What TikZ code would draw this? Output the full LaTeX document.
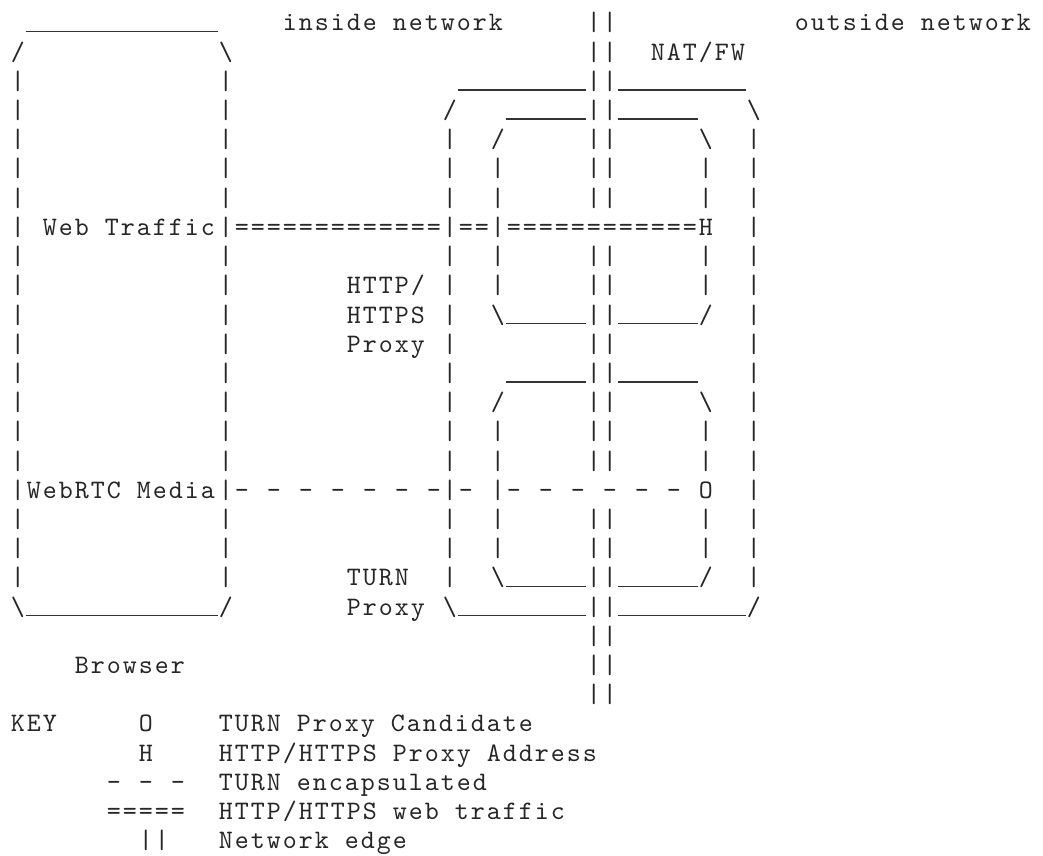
\documentclass[tikz,border=0pt]{standalone}
\usepackage{fontspec}
\usepackage{tikz}
\newfontfamily\asciifont{lmmono10-regular.otf}[LetterSpace=7.5]
\newcommand{\asciirun}[2]{\foreach \i in {1,...,#1}{#2}}
% an underscore run, #1 cells long
\newcommand{\asciibar}[1]{\rule[-1pt]{#1\dimexpr 12pt\relax}{1.2pt}}
\tikzset{
  % one typed cell of the sketch, placed by column and row
  glyph/.style={anchor=base west, inner sep=0pt, outer sep=0pt, text=black!85,
    xshift=0.6pt, font={\asciifont\fontsize{20pt}{24pt}\selectfont}},
  % side of a box
  side/.style={glyph},
  % top and bottom of a box
  bar/.style={anchor=base west, inner sep=0pt, outer sep=0pt, text=black!80},
  % written labels
  tag/.style={glyph},
}
\begin{document}
\begin{tikzpicture}[x=12pt, y=21.9pt]
  \useasboundingbox (-0.625,1.0616) rectangle (64.5625,-28.253);

  % headings
  \node[tag] (inside) at (17,0) {inside network};
  \node[tag] (outside) at (49,0) {outside network};
  \node[tag] (natfw) at (40,-1) {NAT/FW};

  % network edge
  \foreach \r in {0,...,6,8,9,...,15,17,18,...,23}
    \node[side] (edge-\r) at (36,-\r) {||};

  % browser
  \node[bar] (b-top) at (1,0) {\asciibar{12}};
  \node[side] (b-nw) at (0,-1) {/};
  \node[side] (b-ne) at (13,-1) {\textbackslash};
  \foreach \r in {2,...,19} {
    \node[side] (b-w\r) at (0,-\r) {|};
    \node[side] (b-e\r) at (13,-\r) {|};
  }
  \node[side] (b-sw) at (0,-20) {\textbackslash};
  \node[bar] (b-bottom) at (1,-20) {\asciibar{12}};
  \node[side] (b-se) at (13,-20) {/};
  \node[tag] (web) at (2,-7) {Web Traffic};
  \node[tag] (webrtc) at (1,-16) {WebRTC Media};
  \node[tag] (browser) at (4,-22) {Browser};

  % proxy
  \node[bar] (p-top-l) at (28,-2) {\asciibar{8}};
  \node[bar] (p-top-r) at (38,-2) {\asciibar{8}};
  \node[side] (p-nw) at (27,-3) {/};
  \node[side] (p-ne) at (46,-3) {\textbackslash};
  \foreach \r in {4,...,19} {
    \node[side] (p-w\r) at (27,-\r) {|};
    \node[side] (p-e\r) at (46,-\r) {|};
  }
  \node[side] (p-sw) at (27,-20) {\textbackslash};
  \node[bar] (p-bot-l) at (28,-20) {\asciibar{8}};
  \node[bar] (p-bot-r) at (38,-20) {\asciibar{8}};
  \node[side] (p-se) at (46,-20) {/};
  \node[tag] (http1) at (21,-9) {HTTP/};
  \node[tag] (http2) at (21,-10) {HTTPS};
  \node[tag] (http3) at (21,-11) {Proxy};
  \node[tag] (turn1) at (21,-19) {TURN};
  \node[tag] (turn2) at (21,-20) {Proxy};

  % inner boxes (http and turn)
  \foreach \t/\n in {3/http,12/turn} {
    \pgfmathtruncatemacro{\s}{\t+7}
    \node[bar] (\n-top-l) at (31,-\t) {\asciibar{5}};
    \node[bar] (\n-top-r) at (38,-\t) {\asciibar{5}};
    \node[side] (\n-nw) at (30,{-\t-1}) {/};
    \node[side] (\n-ne) at (43,{-\t-1}) {\textbackslash};
    \foreach \k in {2,...,6} {
      \node[side] (\n-w\k) at (30,{-\t-\k}) {|};
      \ifnum\k=4 \else \node[side] (\n-e\k) at (43,{-\t-\k}) {|}; \fi
    }
    \node[side] (\n-sw) at (30,-\s) {\textbackslash};
    \node[bar] (\n-bot-l) at (31,-\s) {\asciibar{5}};
    \node[bar] (\n-bot-r) at (38,-\s) {\asciibar{5}};
    \node[side] (\n-se) at (43,-\s) {/};
  }

  % traffic
  \node[tag] (h) at (43,-7) {H};
  \node[tag] (o) at (43,-16) {O};
  \node[side] (web-a) at (14,-7) {\asciirun{13}{=}};
  \node[side] (web-b) at (28,-7) {==};
  \node[side] (web-c) at (31,-7) {\asciirun{12}{=}};
  \foreach \c in {14,16,...,26,28,31,33,...,41}
    \node[side] (media-\c) at (\c,-16) {-};

  % key
  \node[tag] (key) at (0,-24) {KEY};
  \node[tag] (key-o) at (8,-24) {O};
  \node[tag] (key-o-txt) at (13,-24) {TURN Proxy Candidate};
  \node[tag] (key-h) at (8,-25) {H};
  \node[tag] (key-h-txt) at (13,-25) {HTTP/HTTPS Proxy Address};
  \foreach \c in {6,8,10}
    \node[side] (key-dash-\c) at (\c,-26) {-};
  \node[tag] (key-dash-txt) at (13,-26) {TURN encapsulated};
  \node[side] (key-eq) at (6,-27) {=====};
  \node[tag] (key-eq-txt) at (13,-27) {HTTP/HTTPS web traffic};
  \node[side] (key-edge) at (8,-28) {||};
  \node[tag] (key-edge-txt) at (13,-28) {Network edge};
\end{tikzpicture}
\end{document}
